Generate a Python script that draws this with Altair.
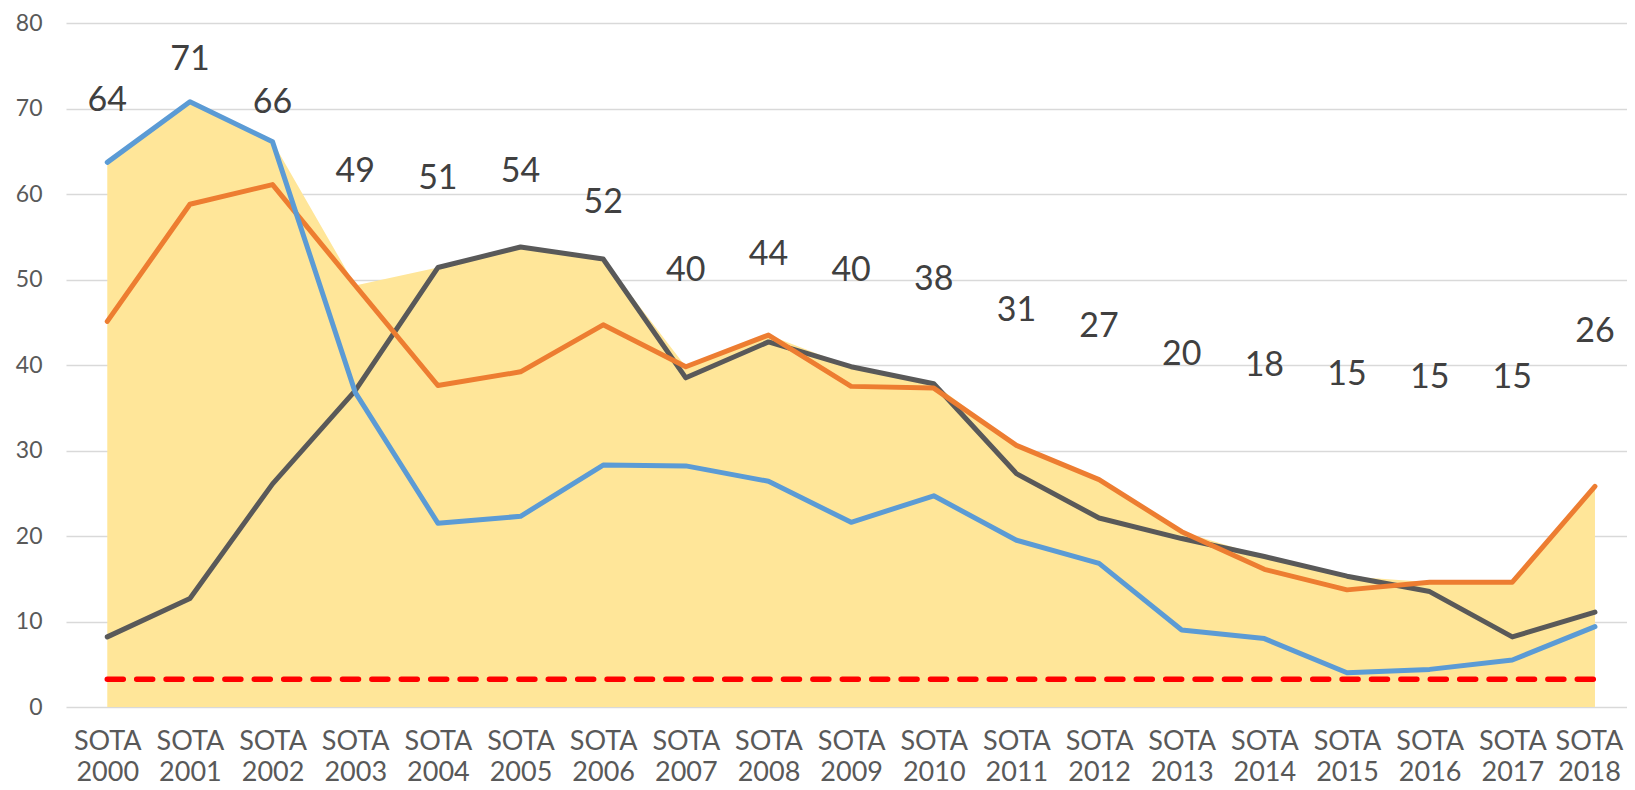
import altair as alt
import pandas as pd

categories = ["SOTA 2000", "SOTA 2001", "SOTA 2002", "SOTA 2003", "SOTA 2004",
              "SOTA 2005", "SOTA 2006", "SOTA 2007", "SOTA 2008", "SOTA 2009",
              "SOTA 2010", "SOTA 2011", "SOTA 2012", "SOTA 2013", "SOTA 2014",
              "SOTA 2015", "SOTA 2016", "SOTA 2017", "SOTA 2018"]

blue_vals = [63.7, 70.8, 66.1, 36.8, 21.5, 22.3, 28.3, 28.2, 26.4, 21.6,
             24.7, 19.5, 16.8, 9.0, 8.0, 4.0, 4.4, 5.5, 9.4]
orange_vals = [45.1, 58.8, 61.1, 49.3, 37.6, 39.2, 44.7, 39.8, 43.5, 37.5,
               37.3, 30.6, 26.6, 20.5, 16.1, 13.7, 14.6, 14.6, 25.8]
gray_vals = [8.2, 12.7, 26.1, 37.0, 51.4, 53.8, 52.4, 38.5, 42.7, 39.8,
             37.8, 27.3, 22.1, 19.7, 17.6, 15.3, 13.5, 8.2, 11.1]
area_vals = [63.7, 70.8, 66.1, 49.3, 51.4, 53.8, 52.4, 39.8, 43.5, 39.8,
             37.8, 30.6, 26.6, 20.5, 17.6, 15.3, 14.6, 14.6, 25.8]
label_text = ["64", "71", "66", "49", "51", "54", "52", "40", "44", "40",
              "38", "31", "27", "20", "18", "15", "15", "15", "26"]
label_pos = [70.9, 75.7, 70.6, 62.6, 61.8, 62.6, 59.0, 51.0, 52.9, 51.0,
             50.0, 46.3, 44.5, 41.2, 39.9, 38.8, 38.5, 38.5, 43.9]
threshold = 3.25

df = pd.DataFrame({
    "cat": categories,
    "blue": blue_vals,
    "orange": orange_vals,
    "gray": gray_vals,
    "area": area_vals,
    "lbl": label_text,
    "lbl_pos": label_pos,
})
thr_df = pd.DataFrame({"cat": [categories[0], categories[-1]],
                       "t": [threshold, threshold]})

FONT = "Lato"
xscale = alt.Scale(type="point", padding=0.4435, align=0.563)
xaxis = alt.Axis(title=None, labelExpr="split(datum.label, ' ')", labelAngle=0,
                 ticks=False, domain=False, grid=False, labelFont=FONT,
                 labelFontSize=27, labelColor="#595959", labelPadding=21,
                 labelLineHeight=31,
                 labelOffset={"expr": "datum.value === 'SOTA 2018' ? -6 : 0"})
yscale = alt.Scale(domain=[0, 80], nice=False, zero=True)
yaxis = alt.Axis(title=None, values=[0, 10, 20, 30, 40, 50, 60, 70, 80],
                 grid=True, gridColor="#D9D9D9", gridWidth=1.5, domain=False,
                 ticks=False, labelFont=FONT, labelFontSize=23,
                 labelColor="#595959", labelPadding=24)


def X():
    return alt.X("cat:N", sort=categories, scale=xscale, axis=xaxis)


def Y(field):
    return alt.Y(f"{field}:Q", scale=yscale, axis=yaxis)


base = alt.Chart(df)

area = base.mark_area(color="#FFE699", opacity=1).encode(x=X(), y=Y("area"))

line_kw = dict(strokeWidth=5, strokeJoin="round", strokeCap="round")
gray = base.mark_line(color="#595959", **line_kw).encode(x=X(), y=Y("gray"))
orange = base.mark_line(color="#ED7D31", **line_kw).encode(x=X(), y=Y("orange"))
blue = base.mark_line(color="#5B9BD5", **line_kw).encode(x=X(), y=Y("blue"))

thr = alt.Chart(thr_df).mark_line(color="#FF0000", strokeWidth=5.5,
                                  strokeDash=[16, 13.4], strokeCap="round").encode(
    x=X(), y=Y("t"))

labels = base.mark_text(font=FONT, fontSize=34, color="#404040",
                        baseline="middle", align="center").encode(
    x=X(), y=Y("lbl_pos"), text="lbl:N")

chart = alt.layer(area, thr, gray, orange, blue, labels).properties(
    width=1561, height=684,
    autosize=alt.AutoSizeParams(type="none"),
    padding={"left": 58, "top": 15, "right": 0, "bottom": 75},
).configure_view(stroke=None)

chart.save("out.html", embed_options={"renderer": "svg", "actions": False})
